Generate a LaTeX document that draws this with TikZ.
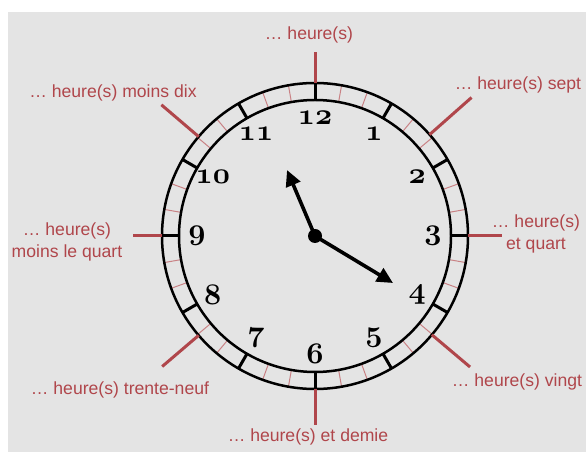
\documentclass[tikz,border=0pt]{standalone}
\usepackage{fontspec}
\setmainfont{Liberation Sans}
\usetikzlibrary{arrows.meta,calc}
\definecolor{bg}{HTML}{E4E4E4}
\definecolor{lab}{HTML}{B0464B}
\definecolor{mtick}{HTML}{C98285}
\newcommand\clocknum[1]{{\fontsize{24.88}{28}\usefont{OML}{cmm}{b}{it}#1}}
\tikzset{
  lbl/.style={text=lab, font=\fontsize{17.6}{22}\selectfont, inner sep=0pt, align=center},
  lead/.style={draw=lab, line width=3pt},
  ring/.style={draw=black, line width=2.5pt},
  hourtick/.style={draw=black, line width=3pt},
  mintick/.style={draw=mtick, line width=1pt},
  hand/.style={draw=black, line width=3.6pt, -{Triangle[length=16pt,width=15pt]}},
  num/.style={inner sep=0pt, scale=1.2},
}
\begin{document}
\begin{tikzpicture}[x=1pt,y=1pt]
\fill[white] (0,0) rectangle (586,452);
\useasboundingbox (0,0) rectangle (586,452);
\fill[bg] (8,0) rectangle (586,440);
\coordinate (C) at (315,216);
% ticks
\foreach \k in {0,...,35}{
  \pgfmathtruncatemacro\m{mod(\k,3)}
  \ifnum\m=0
    \draw[hourtick] ($(C)+({90-10*\k}:136)$) -- ($(C)+({90-10*\k}:153)$);
  \else
    \draw[mintick] ($(C)+({90-10*\k}:136)$) -- ($(C)+({90-10*\k}:153)$);
  \fi
}
\draw[ring] (C) circle (153);
\draw[ring] (C) circle (136);
% numerals
\foreach \h in {1,...,12}
  \node[num] (n\h) at ($(C)+({90-30*\h}:118)$) {\clocknum{\h}};
% hands
\coordinate (hourtip) at (287,282);
\coordinate (mintip) at (393,169);
\draw[hand] (C) -- (hourtip);
\draw[hand] (C) -- (mintip);
\fill (C) circle (7);
% labels
\node[lbl] (l12) at (309,417) {… heure(s)};
\node[lbl] (l10) at (113,359) {… heure(s) moins dix};
\node[lbl] (l2) at (518,367) {… heure(s) sept};
\node[lbl] (l9) at (67,210) {… heure(s)\\moins le quart};
\node[lbl] (l3) at (536,218) {… heure(s)\\et quart};
\node[lbl] (l8) at (120,62) {… heure(s) trente-neuf};
\node[lbl] (l4) at (517,70) {… heure(s) vingt};
\node[lbl] (l6) at (308,15) {… heure(s) et demie};
% leader lines
\coordinate (r12) at ($(C)+(90:153)$);   \coordinate (e12) at (315,400);
\coordinate (r10) at ($(C)+(139.5:153)$); \coordinate (e10) at ($(C)+(139.5:202)$);
\coordinate (r2) at ($(C)+(41.5:153)$);  \coordinate (e2) at ($(C)+(41.5:209)$);
\coordinate (r9) at ($(C)+(180:153)$);   \coordinate (e9) at (133,216);
\coordinate (r3) at ($(C)+(0:153)$);     \coordinate (e3) at (502,216);
\coordinate (r8) at ($(C)+(220.5:153)$); \coordinate (e8) at ($(C)+(220.5:201)$);
\coordinate (r4) at ($(C)+(319.8:153)$); \coordinate (e4) at ($(C)+(319.8:203)$);
\coordinate (r6) at ($(C)+(270:153)$);   \coordinate (e6) at (315,27);
\foreach \a in {12,10,2,9,3,8,4,6} \draw[lead] (r\a) -- (e\a);
\end{tikzpicture}
\end{document}
